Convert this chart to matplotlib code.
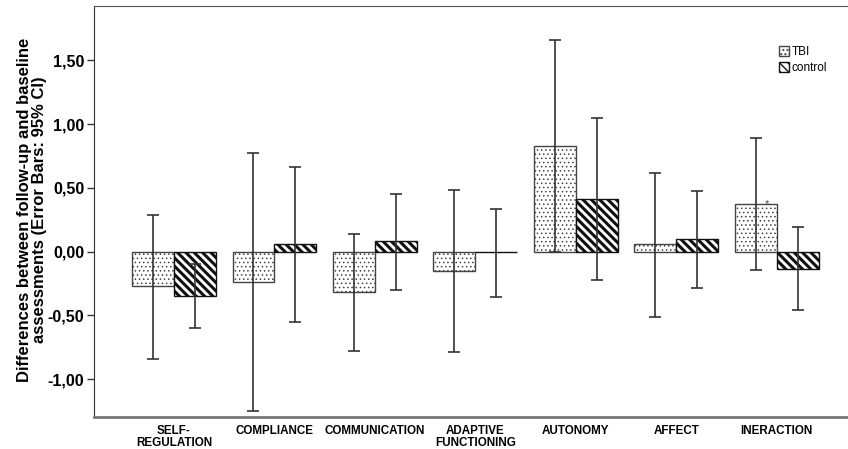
import numpy as np
import matplotlib
matplotlib.use("Agg")
import matplotlib.pyplot as plt
from matplotlib.ticker import FuncFormatter

plt.rcParams["font.family"] = ["Liberation Sans", "DejaVu Sans"]

# values (mean change and 95% CI limits)
categories = ["SELF-\nREGULATION", "COMPLIANCE", "COMMUNICATION", "ADAPTIVE\nFUNCTIONING",
              "AUTONOMY", "AFFECT", "INERACTION"]
tbi_mean = [-0.27, -0.24, -0.32, -0.15, 0.83, 0.06, 0.37]
tbi_lo = [-0.84, -1.25, -0.78, -0.79, 0.00, -0.51, -0.145]
tbi_hi = [0.29, 0.77, 0.14, 0.48, 1.66, 0.62, 0.89]
ctrl_mean = [-0.35, 0.063, 0.084, 0.0, 0.41, 0.10, -0.136]
ctrl_lo = [-0.60, -0.55, -0.30, -0.355, -0.225, -0.285, -0.46]
ctrl_hi = [-0.10, 0.66, 0.455, 0.335, 1.05, 0.475, 0.19]
y_ticks = [-1.0, -0.5, 0.0, 0.5, 1.0, 1.5]

x = np.arange(len(categories))
w = 0.418

fig = plt.figure(figsize=(8.48, 4.49), dpi=100)
ax = fig.add_axes([94 / 848, 1 - 416.5 / 449, 1 - 94 / 848, (416.5 - 6) / 449])

# dotted bars for TBI
b1 = ax.bar(x - w / 2, tbi_mean, w, facecolor="white", edgecolor="#444444",
            linewidth=1.0, hatch="....", label="TBI", zorder=2)

# striped bars for control
b2 = ax.bar(x + w / 2, ctrl_mean, w, facecolor="white", edgecolor="#111111",
            linewidth=1.0, hatch="\\\\\\\\", label="control", zorder=2)

for p in b1:
    if hasattr(p, "set_hatch_linewidth"):
        p.set_hatch_linewidth(0.6)
for p in b2:
    if hasattr(p, "set_hatch_linewidth"):
        p.set_hatch_linewidth(2.2)

tm = np.array(tbi_mean)
cm = np.array(ctrl_mean)
ax.errorbar(x - w / 2, tm, yerr=[tm - np.array(tbi_lo), np.array(tbi_hi) - tm],
            fmt="none", ecolor="#333333", elinewidth=1.2, capsize=4, capthick=1.2, zorder=3)
ax.errorbar(x + w / 2, cm, yerr=[cm - np.array(ctrl_lo), np.array(ctrl_hi) - cm],
            fmt="none", ecolor="#333333", elinewidth=1.2, capsize=4, capthick=1.2, zorder=3)

# small asterisk on the INERACTION TBI bar
ax.text(5.90, 0.37, "*", ha="center", va="center", fontsize=8, color="#444444", zorder=4)

ax.set_xlim(-0.797, 6.71)
ax.set_ylim(-1.294, 1.927)
ax.set_yticks(y_ticks)
ax.yaxis.set_major_formatter(FuncFormatter(lambda v, p: f"{v:.2f}".replace(".", ",")))
ax.set_xticks(x)
ax.set_xticklabels(categories, fontsize=8.4, fontweight="bold", linespacing=1.05)
ax.tick_params(axis="x", length=0, pad=6)
ax.tick_params(axis="y", length=5, width=1, color="#333333", labelsize=11.5, pad=2)
for lab in ax.get_yticklabels():
    lab.set_fontweight("bold")

ax.spines["right"].set_visible(False)
ax.spines["top"].set_color("#555555")
ax.spines["left"].set_color("#333333")
ax.spines["bottom"].set_color("#777777")
ax.spines["bottom"].set_linewidth(2)

fig.text(32 / 848, 1 - 210 / 449,
         "Differences between follow-up and baseline\nassessments (Error Bars: 95% CI)",
         rotation=90, ha="center", va="center", fontsize=12, fontweight="bold",
         multialignment="center", linespacing=1.0)

leg = ax.legend(loc="upper left", bbox_to_anchor=(779 / 848, 1 - 46 / 449),
                bbox_transform=fig.transFigure, frameon=False, fontsize=8.5,
                handlelength=0.85, handleheight=0.9, handletextpad=0.2,
                borderpad=0, borderaxespad=0, labelspacing=0.35)

fig.savefig("out.png", dpi=100, facecolor="white")
